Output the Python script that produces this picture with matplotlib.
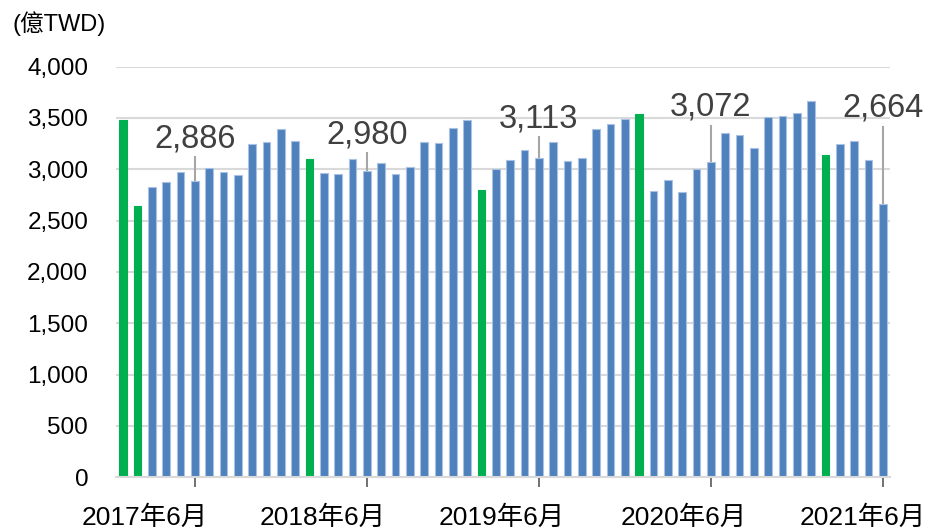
import numpy as np
import matplotlib.pyplot as plt

plt.rcParams['font.family'] = ['Liberation Sans', 'Noto Sans CJK TC', 'DejaVu Sans']

# 月次データ 2017年1月 ~ 2021年6月 (億TWD)
years = [2017] * 12 + [2018] * 12 + [2019] * 12 + [2020] * 12 + [2021] * 6
months = list(range(1, 13)) * 4 + list(range(1, 7))
values = [3478, 2644, 2832, 2877, 2977, 2886, 3010, 2977, 2945, 3245, 3262, 3388,
          3274, 3100, 2967, 2958, 3100, 2980, 3058, 2952, 3025, 3262, 3252, 3403,
          3478, 2800, 3003, 3087, 3187, 3113, 3262, 3080, 3113, 3397, 3439, 3494,
          3542, 2790, 2896, 2777, 3006, 3072, 3352, 3335, 3203, 3510, 3516, 3545,
          3668, 3139, 3245, 3277, 3093, 2664]
# 旧正月の月 (緑)
cny_months = [(2017, 1), (2017, 2), (2018, 2), (2019, 2), (2020, 1), (2021, 2)]

# 注記の高さ
note_y = [3216, 3255, 3410, 3526, 3510]
# 目盛ラベルの位置 (元の図に合わせてずらす)
label_pos = [1.5, 13.95, 26.4, 39.1, 51.6]

x = np.arange(len(values))
colors = ['#00b050' if (y, m) in cny_months else '#4f81bd' for y, m in zip(years, months)]
edges = ['#00b050' if (y, m) in cny_months else '#a9c1e2' for y, m in zip(years, months)]

fig = plt.figure(figsize=(9.28, 5.29), dpi=100)
ax = fig.add_axes([0.125, 0.0977, 0.834, 0.7763])

ax.bar(x, values, width=0.55, color=colors, edgecolor=edges, linewidth=0.8, zorder=3)

ax.set_xlim(-0.5, 53.5)
ax.set_ylim(0, 4000)
ax.set_yticks(range(0, 4001, 500))
ax.set_yticklabels([f'{v:,}' for v in range(0, 4001, 500)], fontsize=17.5)
ax.tick_params(axis='y', length=0, pad=20, colors='black')
ax.grid(axis='y', color='#d9d9d9', linewidth=1.5, zorder=0)

june = [i for i, m in enumerate(months) if m == 6]
ax.set_xticks(june)
ax.set_xticklabels([])
ax.tick_params(axis='x', which='major', direction='inout', length=15, width=1.2, color='#595959')
ax.set_xticks(label_pos, minor=True)
ax.set_xticklabels([f'{years[i]}年{months[i]}月' for i in june], minor=True, fontsize=19)
ax.tick_params(axis='x', which='minor', length=0, pad=20)

for s in ['top', 'right', 'left']:
    ax.spines[s].set_visible(False)
ax.spines['bottom'].set_color('#d9d9d9')
ax.spines['bottom'].set_linewidth(1.5)
ax.spines['bottom'].set_zorder(4)

for i, ny in zip(june, note_y):
    ax.plot([i, i], [values[i], ny - 100], color='#a6a6a6', linewidth=1.5, zorder=2)
    ax.text(i, ny, f'{values[i]:,}', ha='center', va='baseline', fontsize=23.5, color='#404040', zorder=5)

fig.text(0.014, 0.955, '(億TWD)', fontsize=17, va='center', ha='left')

fig.savefig('out.png', dpi=100)
